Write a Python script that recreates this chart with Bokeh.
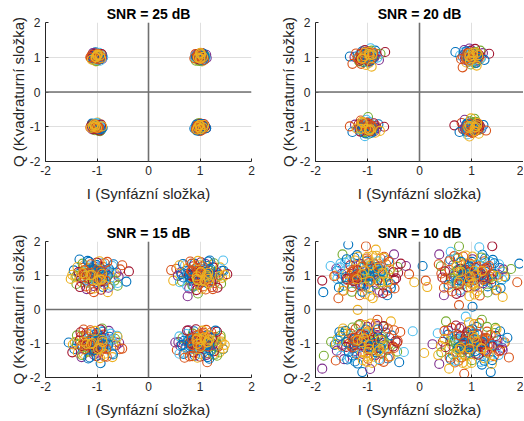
from bokeh.plotting import figure
from bokeh.layouts import row, column
from bokeh.models import Span, ColumnDataSource
from bokeh.embed import file_html
from bokeh.resources import INLINE

# ---------------- data ----------------
titles = ["SNR = 25 dB", "SNR = 20 dB", "SNR = 15 dB", "SNR = 10 dB"]
x_label = "I (Synfázní složka)"
y_label = "Q (Kvadraturní složka)"
ticks = [-2, -1, 0, 1, 2]
tick_text = {-2: "-2", -1: "-1", 0: "0", 1: "1", 2: "2"}

# outer / visible points
snr25_i = [1.03, 0.95, 1.08, 0.92, 1.01, 1.11, 0.97, 1.05, 0.89, 1.02, 0.98, 1.07, 0.94, 1.12, 0.99, 0.91, 1.04, 1.09, 0.96, 1.00,
           -0.97, -1.05, -0.92, -1.09, -1.01, -0.88, -1.03, -0.95, -1.12, -0.99, -1.06, -0.93, -1.02, -0.90, -1.08, -0.96, -1.04, -0.98, -1.10, -0.94,
           -1.02, -0.96, -1.08, -0.91, -1.04, -0.98, -1.11, -0.93, -1.00, -1.06, -0.89, -1.03, -0.95, -1.09, -0.97, -1.01, -0.92, -1.05, -0.99, -1.12,
           1.02, 0.96, 1.07, 0.91, 1.04, 0.98, 1.10, 0.93, 1.01, 1.06, 0.89, 1.03, 0.95, 1.12, 0.97, 1.00, 1.08, 0.94, 1.05, 0.99]
snr25_q = [1.02, 0.98, 1.05, 1.06, 0.93, 0.99, 1.10, 0.91, 0.97, 1.08, 1.01, 0.95, 0.92, 1.07, 0.89, 1.03, 1.12, 1.01, 1.04, 0.96,
           1.03, 0.97, 1.08, 1.04, 0.92, 1.00, 1.11, 0.94, 0.99, 1.06, 1.09, 1.01, 0.88, 0.95, 0.93, 1.13, 1.02, 0.98, 1.07, 1.05,
           -0.97, -1.04, -1.02, -0.99, -1.10, -0.91, -0.96, -1.07, -1.01, -0.93, -1.03, -1.06, -0.95, -1.08, -1.12, -0.89, -0.94, -1.00, -1.05, -1.03,
           -1.03, -0.97, -1.06, -1.01, -0.92, -1.09, -0.98, -0.94, -1.12, -1.02, -1.05, -0.96, -1.07, -1.04, -0.90, -1.00, -0.93, -1.11, -1.08, -0.95]
# dense core points
snr25_core_i = [1.06, 0.93, 1.02, 0.98, 1.10, 0.90, 1.04, 0.96, 1.08, 1.00, 0.94, 1.05, 0.99, 1.13, 0.92, 1.03, 0.97, 1.07, 0.95, 1.01, 1.09, 0.91, 1.04, 0.98, 1.02,
                -1.06, -0.93, -1.02, -0.98, -1.10, -0.90, -1.04, -0.96, -1.08, -1.00, -0.94, -1.05, -0.99, -1.13, -0.92, -1.03, -0.97, -1.07, -0.95, -1.01, -1.09, -0.91, -1.04, -0.98, -1.02,
                -1.02, -0.98, -1.04, -0.91, -1.09, -1.01, -0.95, -1.07, -0.97, -1.03, -0.92, -1.13, -0.99, -1.05, -0.94, -1.00, -1.08, -0.96, -1.04, -0.90, -1.10, -0.98, -1.02, -0.93, -1.06,
                1.01, 0.97, 1.05, 0.92, 1.08, 1.03, 0.95, 1.11, 0.99, 1.04, 0.90, 1.06, 0.98, 1.02, 0.94, 1.09, 1.00, 0.96, 1.07, 0.93, 1.03, 0.99, 1.12, 0.95, 1.01]
snr25_core_q = [0.97, 1.03, 1.09, 0.94, 1.04, 1.01, 0.99, 1.07, 0.92, 1.11, 0.96, 1.06, 1.02, 0.98, 0.90, 0.95, 1.05, 1.10, 1.00, 1.13, 0.94, 1.09, 0.88, 1.03, 0.99,
                1.01, 0.96, 1.05, 1.10, 0.93, 1.07, 0.98, 1.03, 1.12, 0.95, 0.90, 1.04, 1.08, 1.00, 0.97, 1.14, 0.92, 1.02, 1.06, 0.89, 0.99, 1.09, 1.04, 0.94, 1.00,
                -1.03, -0.97, -1.08, -1.01, -0.94, -1.06, -1.11, -0.92, -1.00, -0.96, -1.09, -1.02, -0.88, -1.05, -1.13, -0.98, -0.93, -1.07, -1.04, -0.99, -0.91, -1.10, -0.95, -1.01, -1.06,
                -0.98, -1.04, -1.01, -1.07, -0.95, -1.10, -0.92, -1.03, -1.06, -0.99, -1.02, -0.94, -1.12, -0.97, -1.08, -1.00, -0.90, -1.05, -0.96, -1.09, -1.01, -0.93, -1.04, -0.98, -1.07]
snr25_core2_i = [1.00, 1.04, 0.96, 1.07, 0.93, 1.02, 0.98, 1.05, 0.95, 1.01, 1.08, 0.94, 1.03, 0.97, 1.06, 0.99, 1.02, 0.92, 1.04, 0.96, 1.00, 1.07, 0.95, 1.03, 0.98, 1.05, 0.93, 1.01, 0.97, 1.06,
                 -1.01, -0.97, -1.05, -0.94, -1.03, -0.99, -1.07, -0.96, -1.02, -1.00, -0.93, -1.06, -0.98, -1.04, -0.95, -1.01, -1.08, -0.97, -1.03, -0.99, -1.05, -0.92, -1.02, -0.96, -1.04, -1.00, -0.98, -1.06, -0.94, -1.03,
                 -0.99, -1.03, -0.96, -1.05, -1.00, -0.94, -1.07, -1.02, -0.97, -1.04, -1.01, -0.95, -1.06, -0.98, -1.03, -0.93, -1.00, -1.05, -0.97, -1.08, -0.99, -1.02, -0.95, -1.04, -0.98, -1.01, -1.06, -0.96, -1.03, -1.00,
                 1.00, 0.97, 1.04, 1.01, 0.99, 1.06, 0.94, 1.03, 1.07, 0.96, 1.02, 1.00, 0.93, 1.05, 0.98, 1.08, 1.01, 1.03, 0.95, 0.99, 1.05, 1.04, 0.97, 1.00, 1.07, 0.94, 1.02, 1.06, 0.98, 1.01]
snr25_core2_q = [1.00, 0.97, 1.04, 1.01, 0.99, 1.06, 0.94, 1.03, 1.07, 0.96, 1.02, 1.00, 0.93, 1.05, 0.98, 1.08, 1.01, 1.03, 0.95, 0.99, 1.05, 1.04, 0.97, 1.00, 1.07, 0.94, 1.02, 1.06, 0.98, 1.01,
                 0.99, 1.03, 0.96, 1.05, 1.00, 0.94, 1.07, 1.02, 0.97, 1.04, 1.01, 0.95, 1.06, 0.98, 1.03, 0.93, 1.00, 1.05, 0.97, 1.08, 0.99, 1.02, 0.95, 1.04, 0.98, 1.01, 1.06, 0.96, 1.03, 1.00,
                 -1.01, -0.97, -1.05, -0.94, -1.03, -0.99, -1.07, -0.96, -1.02, -1.00, -0.93, -1.06, -0.98, -1.04, -0.95, -1.01, -1.08, -0.97, -1.03, -0.99, -1.05, -0.92, -1.02, -0.96, -1.04, -1.00, -0.98, -1.06, -0.94, -1.03,
                 -1.00, -1.04, -0.96, -1.07, -0.93, -1.02, -0.98, -1.05, -0.95, -1.01, -1.08, -0.94, -1.03, -0.97, -1.06, -0.99, -1.02, -0.92, -1.04, -0.96, -1.00, -1.07, -0.95, -1.03, -0.98, -1.05, -0.93, -1.01, -0.97, -1.06]

snr20_i = [1.05, 0.93, 1.12, 0.86, 1.01, 1.18, 0.97, 1.09, 0.80, 1.03, 0.95, 1.15, 0.90, 1.22, 0.99, 0.84, 1.07, 1.25, 0.92, 1.00,
           1.11, 0.88, 1.04, 0.96, 1.17, 0.78, 1.34, 0.69, 0.83, 1.10,
           -0.98, -1.07, -0.89, -1.14, -1.02, -0.81, -1.05, -0.93, -1.19, -0.96, -1.10, -0.87, -1.03, -0.78, -1.16, -0.94, -1.08, -1.00, -1.22, -0.91,
           -0.85, -1.12, -0.97, -1.25, -0.75, -1.04, -0.66, -1.34, -1.29, -0.92,
           -1.03, -0.95, -1.11, -0.87, -1.06, -0.97, -1.17, -0.90, -1.00, -1.09, -0.82, -1.04, -0.93, -1.15, -0.98, -1.02, -0.88, -1.07, -0.96, -1.21,
           -0.79, -1.13, -0.85, -1.24, -0.99, -1.05, -0.68, -1.29, -1.34, -0.76,
           1.03, 0.95, 1.10, 0.88, 1.05, 0.98, 1.16, 0.91, 1.01, 1.08, 0.84, 1.04, 0.94, 1.19, 0.97, 1.00, 1.12, 0.90, 1.07, 0.99,
           1.23, 0.81, 1.14, 0.87, 1.06, 0.92, 0.67, 0.77, 1.28, 0.96]
snr20_q = [1.02, 0.96, 1.09, 1.08, 0.88, 0.97, 1.18, 0.84, 0.95, 1.13, 1.04, 1.04, 0.85, 1.12, 0.79, 1.14, 1.24, 0.92, 1.11, 0.97,
           0.91, 1.01, 0.95, 1.25, 1.19, 1.05, 1.10, 1.15, 0.71, 0.76,
           1.04, 0.95, 1.10, 1.09, 0.86, 0.99, 1.21, 0.91, 0.97, 1.15, 1.17, 1.03, 0.78, 0.92, 0.88, 1.26, 1.03, 0.99, 1.11, 1.07,
           1.19, 0.81, 0.84, 1.01, 1.10, 1.12, 1.15, 1.02, 0.81, 0.73,
           -0.96, -1.06, -1.03, -0.98, -1.16, -0.86, -0.93, -1.10, -1.01, -0.89, -1.04, -1.09, -0.94, -1.12, -1.21, -0.80, -0.90, -1.00, -1.13, -1.05,
           -0.93, -0.82, -1.17, -0.94, -0.72, -1.27, -1.00, -1.15, -0.99, -1.12,
           -1.02, -0.95, -1.08, -1.03, -0.88, -1.12, -0.97, -0.91, -1.17, -1.01, -1.07, -0.93, -1.05, -1.06, -0.84, -0.99, -0.90, -1.14, -1.13, -0.76,
           -0.95, -0.89, -1.20, -0.80, -0.77, -1.22, -0.96, -1.15, -1.11, -1.28]
snr20_core_i = [1.02, 0.94, 1.11, 0.87, 1.06, 0.98, 1.15, 0.90, 1.03, 0.96, 1.08, 0.83, 1.13, 1.00, 0.92, 1.19, 0.97, 1.05, 0.89, 1.10, 0.95, 1.01, 1.16, 0.86, 1.07, 0.99, 1.12, 0.93, 1.04, 0.97,
                -1.02, -0.94, -1.11, -0.87, -1.06, -0.98, -1.15, -0.90, -1.03, -0.96, -1.08, -0.83, -1.13, -1.00, -0.92, -1.19, -0.97, -1.05, -0.89, -1.10, -0.95, -1.01, -1.16, -0.86, -1.07, -0.99, -1.12, -0.93, -1.04, -0.97,
                -1.01, -0.95, -1.09, -0.88, -1.05, -0.97, -1.14, -0.91, -1.02, -0.94, -1.07, -0.84, -1.12, -0.99, -0.93, -1.18, -0.98, -1.04, -0.90, -1.11, -0.96, -1.00, -1.15, -0.87, -1.08, -1.03, -1.13, -0.92, -1.06, -0.97,
                1.01, 0.95, 1.09, 0.88, 1.05, 0.97, 1.14, 0.91, 1.02, 0.94, 1.07, 0.84, 1.12, 0.99, 0.93, 1.18, 0.98, 1.04, 0.90, 1.11, 0.96, 1.00, 1.15, 0.87, 1.08, 1.03, 1.13, 0.92, 1.06, 0.97]
snr20_core_q = [0.98, 1.07, 1.01, 0.93, 1.15, 0.89, 1.06, 1.17, 0.95, 1.02, 0.84, 1.03, 0.99, 1.20, 1.10, 1.00, 0.91, 1.08, 0.97, 1.13, 0.87, 1.05, 0.94, 1.21, 0.83, 1.12, 1.04, 0.98, 1.01, 0.90,
                1.01, 0.94, 1.08, 0.99, 1.12, 1.03, 0.90, 0.97, 1.16, 1.05, 0.86, 1.10, 1.00, 0.93, 1.19, 1.04, 0.88, 1.07, 1.13, 0.96, 1.02, 1.17, 0.91, 1.06, 0.98, 0.85, 1.11, 1.03, 0.95, 1.09,
                -0.99, -1.05, -0.92, -1.10, -1.02, -0.95, -1.14, -1.00, -0.88, -1.07, -1.16, -0.97, -1.03, -0.90, -1.11, -1.06, -0.94, -1.19, -1.01, -0.86, -1.08, -0.96, -1.04, -1.13, -0.91, -1.02, -0.98, -1.17, -0.93, -1.09,
                -1.03, -0.96, -1.09, -1.00, -0.91, -1.13, -1.05, -0.94, -1.18, -1.02, -0.87, -1.07, -0.99, -1.11, -0.93, -1.04, -1.15, -0.97, -1.08, -0.89, -1.01, -1.12, -0.95, -1.06, -0.86, -1.10, -1.00, -0.92, -1.14, -0.98]
snr20_core2_i = [1.00, 1.06, 0.94, 1.11, 0.90, 1.03, 0.97, 1.08, 0.92, 1.13, 1.01, 0.95, 1.05, 0.88, 1.09, 0.99, 1.04, 0.93, 1.14, 0.96, 1.02, 1.07, 0.91, 1.10, 0.98, 1.05, 0.94, 1.12, 0.97, 1.03,
                 -1.01, -0.95, -1.08, -0.99, -1.04, -0.91, -1.12, -1.02, -0.97, -1.06, -0.89, -1.10, -0.96, -1.03, -1.14, -0.93, -1.07, -1.00, -0.98, -1.11, -0.94, -1.05, -1.02, -0.90, -1.09, -0.97, -1.13, -1.01, -0.92, -1.06,
                 -1.00, -1.06, -0.94, -1.11, -0.90, -1.03, -0.97, -1.08, -0.92, -1.13, -1.01, -0.95, -1.05, -0.88, -1.09, -0.99, -1.04, -0.93, -1.14, -0.96, -1.02, -1.07, -0.91, -1.10, -0.98, -1.05, -0.94, -1.12, -0.97, -1.03,
                 1.01, 0.95, 1.08, 0.99, 1.04, 0.91, 1.12, 1.02, 0.97, 1.06, 0.89, 1.10, 0.96, 1.03, 1.14, 0.93, 1.07, 1.00, 0.98, 1.11, 0.94, 1.05, 1.02, 0.90, 1.09, 0.97, 1.13, 1.01, 0.92, 1.06]
snr20_core2_q = [1.01, 0.95, 1.08, 0.99, 1.04, 0.91, 1.12, 1.02, 0.97, 1.06, 0.89, 1.10, 0.96, 1.03, 1.14, 0.93, 1.07, 1.00, 0.98, 1.11, 0.94, 1.05, 1.02, 0.90, 1.09, 0.97, 1.13, 1.01, 0.92, 1.06,
                 1.00, 1.06, 0.94, 1.11, 0.90, 1.03, 0.97, 1.08, 0.92, 1.13, 1.01, 0.95, 1.05, 0.88, 1.09, 0.99, 1.04, 0.93, 1.14, 0.96, 1.02, 1.07, 0.91, 1.10, 0.98, 1.05, 0.94, 1.12, 0.97, 1.03,
                 -1.01, -0.95, -1.08, -0.99, -1.04, -0.91, -1.12, -1.02, -0.97, -1.06, -0.89, -1.10, -0.96, -1.03, -1.14, -0.93, -1.07, -1.00, -0.98, -1.11, -0.94, -1.05, -1.02, -0.90, -1.09, -0.97, -1.13, -1.01, -0.92, -1.06,
                 -1.00, -1.06, -0.94, -1.11, -0.90, -1.03, -0.97, -1.08, -0.92, -1.13, -1.01, -0.95, -1.05, -0.88, -1.09, -0.99, -1.04, -0.93, -1.14, -0.96, -1.02, -1.07, -0.91, -1.10, -0.98, -1.05, -0.94, -1.12, -0.97, -1.03]

snr15_i = [-1.02, -0.91, -1.13, -0.85, -1.18, -0.97, -1.08, -0.79, -1.25, -0.94, -1.05, -0.88, -1.21, -0.99, -1.15, -0.73, -1.31, -1.01, -0.83, -1.10,
           -0.96, -1.27, -0.69, -1.07, -1.19, -0.90, -1.36, -0.77, -1.12, -0.86, -1.03, -1.23, -0.65, -0.98, -1.40, -1.16,
           -0.38, -0.43, -0.51, -1.51, -1.34, -1.06, -0.79, -1.20, -0.60,
           1.01, 0.90, 1.12, 0.84, 1.17, 0.96, 1.07, 0.78, 1.24, 0.93, 1.04, 0.87, 1.20, 0.98, 1.14, 0.72, 1.30, 1.00, 0.82, 1.09,
           0.95, 1.26, 0.68, 1.06, 1.18, 0.89, 1.34, 0.76, 1.11, 0.85, 1.02, 1.22, 0.64, 0.97, 1.38, 1.15,
           0.44, 0.48, 0.76, 0.96, 1.45, 1.53, 1.43, 1.25, 0.60,
           -1.01, -0.92, -1.12, -0.84, -1.18, -0.97, -1.06, -0.78, -1.24, -0.93, -1.04, -0.87, -1.20, -0.99, -1.14, -0.72, -1.30, -1.00, -0.82, -1.09,
           -0.95, -1.26, -0.68, -1.06, -1.18, -0.89, -1.34, -0.76, -1.11, -0.85, -1.02, -1.22, -0.64, -0.97, -1.39, -1.15,
           -1.48, -0.93, -0.51, -0.60, -1.55, -1.26, -0.70, -1.30, -0.90,
           1.02, 0.91, 1.13, 0.85, 1.18, 0.97, 1.07, 0.79, 1.25, 0.94, 1.05, 0.88, 1.21, 0.99, 1.15, 0.73, 1.31, 1.01, 0.83, 1.10,
           0.96, 1.27, 0.69, 1.07, 1.19, 0.90, 1.35, 0.77, 1.12, 0.86, 1.03, 1.23, 0.65, 0.98, 1.40, 1.16,
           1.14, 1.40, 0.52, 1.33, 0.60, 0.75, 1.30, 0.70, 1.45]
snr15_q = [1.05, 0.96, 1.12, 1.08, 0.92, 1.21, 0.83, 0.99, 1.04, 0.88, 1.16, 1.25, 1.18, 0.75, 0.98, 1.12, 0.94, 1.31, 0.85, 1.02,
           1.09, 1.23, 0.93, 0.69, 0.79, 1.36, 1.10, 1.20, 1.33, 0.72, 0.93, 0.86, 1.05, 1.00, 0.99, 1.27,
           1.12, 0.82, 1.30, 0.90, 1.47, 0.51, 0.51, 0.60, 0.70,
           1.03, 0.95, 1.10, 1.12, 0.90, 1.22, 0.82, 1.01, 1.05, 0.87, 1.17, 1.27, 1.20, 0.74, 0.97, 1.14, 0.93, 1.30, 0.84, 1.01,
           1.08, 1.24, 0.94, 0.68, 0.77, 1.35, 1.08, 1.21, 1.34, 0.71, 0.92, 0.85, 1.04, 0.99, 0.98, 1.28,
           1.16, 0.85, 0.39, 0.47, 1.44, 1.04, 1.14, 0.60, 1.30,
           -0.98, -1.06, -0.91, -0.95, -1.12, -0.80, -1.20, -1.03, -0.97, -1.14, -0.84, -0.74, -0.79, -1.27, -1.04, -0.88, -1.07, -0.69, -1.17, -0.99,
           -0.92, -0.77, -1.06, -1.33, -1.24, -0.64, -0.91, -0.80, -0.66, -1.30, -1.09, -1.16, -0.96, -1.01, -1.03, -0.72,
           -1.26, -1.58, -1.15, -0.80, -0.97, -0.59, -1.40, -1.40, -0.56,
           -1.02, -0.94, -1.09, -1.05, -0.88, -1.20, -0.81, -0.97, -1.03, -0.86, -1.16, -1.26, -1.21, -0.73, -0.96, -1.12, -0.92, -1.31, -0.84, -1.00,
           -1.08, -1.23, -0.92, -0.68, -0.76, -1.36, -1.09, -1.21, -1.34, -0.71, -0.91, -0.84, -1.04, -0.99, -0.97, -1.28,
           -1.55, -0.83, -0.97, -1.36, -1.30, -0.62, -0.62, -1.42, -1.15]
snr15_core_i = [-1.00, -0.92, -1.09, -0.84, -1.14, -0.96, -1.05, -0.88, -1.20, -0.99, -1.03, -0.80, -1.11, -0.94, -1.17, -0.86, -1.07, -0.97, -1.24, -0.90, -1.01, -1.13, -0.82, -1.06, -0.95, -1.18, -0.89, -1.10, -0.98, -1.28, -0.93, -1.04, -0.76, -1.15, -1.02,
                0.99, 0.91, 1.08, 0.83, 1.13, 0.95, 1.04, 0.87, 1.19, 0.98, 1.02, 0.79, 1.10, 0.93, 1.16, 0.85, 1.06, 0.96, 1.23, 0.89, 1.00, 1.12, 0.81, 1.05, 0.94, 1.17, 0.88, 1.09, 0.97, 1.27, 0.92, 1.03, 0.75, 1.14, 1.01,
                -0.99, -0.91, -1.08, -0.83, -1.13, -0.95, -1.04, -0.87, -1.19, -0.98, -1.02, -0.79, -1.10, -0.93, -1.16, -0.85, -1.06, -0.96, -1.23, -0.89, -1.00, -1.12, -0.81, -1.05, -0.94, -1.17, -0.88, -1.09, -0.97, -1.27, -0.92, -1.03, -0.75, -1.14, -1.01,
                1.00, 0.92, 1.09, 0.84, 1.14, 0.96, 1.05, 0.88, 1.20, 0.99, 1.03, 0.80, 1.11, 0.94, 1.17, 0.86, 1.07, 0.97, 1.24, 0.90, 1.01, 1.13, 0.82, 1.06, 0.95, 1.18, 0.89, 1.10, 0.98, 1.28, 0.93, 1.04, 0.76, 1.15, 1.02]
snr15_core_q = [1.00, 1.08, 0.94, 1.15, 1.03, 0.90, 1.19, 0.97, 1.06, 0.85, 1.12, 1.02, 0.96, 1.24, 1.09, 0.88, 1.01, 1.16, 0.95, 1.05, 0.81, 1.11, 0.93, 1.28, 0.99, 1.04, 0.87, 1.13, 0.92, 1.07, 1.20, 0.98, 1.06, 0.91, 1.10,
                0.99, 1.07, 0.93, 1.14, 1.02, 0.89, 1.18, 0.96, 1.05, 0.84, 1.11, 1.01, 0.95, 1.23, 1.08, 0.87, 1.00, 1.15, 0.94, 1.04, 0.80, 1.10, 0.92, 1.27, 0.98, 1.03, 0.86, 1.12, 0.91, 1.06, 1.19, 0.97, 1.05, 0.90, 1.09,
                -1.01, -0.93, -1.07, -0.86, -0.98, -1.11, -0.82, -1.04, -0.95, -1.16, -0.89, -0.99, -1.06, -0.77, -0.92, -1.13, -1.00, -0.85, -1.05, -0.96, -1.20, -0.90, -1.08, -0.74, -1.02, -0.97, -1.14, -0.88, -1.09, -0.94, -0.81, -1.03, -0.95, -1.10, -0.91,
                -1.00, -0.92, -1.06, -0.85, -0.97, -1.10, -0.81, -1.03, -0.94, -1.15, -0.88, -0.98, -1.05, -0.76, -0.91, -1.12, -0.99, -0.84, -1.04, -0.95, -1.19, -0.89, -1.07, -0.73, -1.01, -0.96, -1.13, -0.87, -1.08, -0.93, -0.80, -1.02, -0.94, -1.09, -0.90]
snr15_core2_i = [-1.04, -0.90, -1.16, -0.97, -1.09, -0.83, -1.21, -1.00, -0.93, -1.13, -0.87, -1.06, -1.19, -0.95, -1.02, -0.80, -1.11, -0.98, -1.25, -0.91, -1.07, -0.85, -1.15, -1.01, -0.94, -1.18, -0.89, -1.05, -0.99, -1.22, -0.92, -1.10, -0.84, -1.03, -0.96,
                 1.04, 0.90, 1.16, 0.97, 1.09, 0.83, 1.21, 1.00, 0.93, 1.13, 0.87, 1.06, 1.19, 0.95, 1.02, 0.80, 1.11, 0.98, 1.25, 0.91, 1.07, 0.85, 1.15, 1.01, 0.94, 1.18, 0.89, 1.05, 0.99, 1.22, 0.92, 1.10, 0.84, 1.03, 0.96,
                 -1.03, -0.89, -1.15, -0.96, -1.08, -0.82, -1.20, -0.99, -0.92, -1.12, -0.86, -1.05, -1.18, -0.94, -1.01, -0.79, -1.10, -0.97, -1.24, -0.90, -1.06, -0.84, -1.14, -1.00, -0.93, -1.17, -0.88, -1.04, -0.98, -1.21, -0.91, -1.09, -0.83, -1.02, -0.95,
                 1.03, 0.89, 1.15, 0.96, 1.08, 0.82, 1.20, 0.99, 0.92, 1.12, 0.86, 1.05, 1.18, 0.94, 1.01, 0.79, 1.10, 0.97, 1.24, 0.90, 1.06, 0.84, 1.14, 1.00, 0.93, 1.17, 0.88, 1.04, 0.98, 1.21, 0.91, 1.09, 0.83, 1.02, 0.95]
snr15_core2_q = [0.95, 1.09, 1.02, 0.86, 1.17, 0.98, 1.05, 0.91, 1.13, 1.01, 0.83, 1.20, 0.94, 1.07, 0.89, 1.11, 1.03, 0.97, 1.15, 0.88, 1.06, 0.99, 1.23, 0.92, 1.10, 0.85, 1.04, 1.18, 0.96, 1.00, 0.81, 1.12, 1.08, 0.93, 1.14,
                 1.05, 0.91, 0.98, 1.14, 0.83, 1.02, 0.95, 1.09, 0.87, 0.99, 1.17, 0.80, 1.06, 0.93, 1.11, 0.89, 0.97, 1.03, 0.85, 1.12, 0.94, 1.01, 0.77, 1.08, 0.90, 1.15, 0.96, 0.82, 1.04, 1.00, 1.19, 0.88, 0.92, 1.07, 0.86,
                 -0.96, -1.10, -1.03, -0.87, -1.18, -0.99, -1.06, -0.92, -1.14, -1.02, -0.84, -1.21, -0.95, -1.08, -0.90, -1.12, -1.04, -0.98, -1.16, -0.89, -1.07, -1.00, -1.24, -0.93, -1.11, -0.86, -1.05, -1.19, -0.97, -1.01, -0.82, -1.13, -1.09, -0.94, -1.15,
                 -1.04, -0.90, -0.97, -1.13, -0.82, -1.01, -0.94, -1.08, -0.86, -0.98, -1.16, -0.79, -1.05, -0.92, -1.10, -0.88, -0.96, -1.02, -0.84, -1.11, -0.93, -1.00, -0.76, -1.07, -0.89, -1.14, -0.95, -0.81, -1.03, -0.99, -1.18, -0.87, -0.91, -1.06, -0.85]
snr15_mid_i = [-1.35, -1.30, -1.38, -0.62, -0.66, -0.70, -1.00, -1.15, -0.85, -1.05, -0.88, -1.22, -1.42, -0.58, -1.28, -0.74, -1.33, -0.68, -1.12, -0.95, -1.45, -0.55, -1.25, -0.78, -1.40, -0.60, -0.92, -1.18, -0.80, -1.48,
               1.36, 1.29, 1.39, 0.63, 0.65, 0.71, 1.02, 1.16, 0.84, 1.04, 0.87, 1.23, 1.43, 0.57, 1.27, 0.75, 1.34, 0.67, 1.11, 0.96, 1.46, 0.54, 1.24, 0.79, 1.41, 0.61, 0.93, 1.19, 0.81, 1.49,
               -1.34, -1.31, -1.37, -0.63, -0.65, -0.71, -1.01, -1.14, -0.86, -1.04, -0.89, -1.21, -1.43, -0.57, -1.29, -0.73, -1.32, -0.69, -1.13, -0.94, -1.44, -0.56, -1.26, -0.77, -1.39, -0.61, -0.93, -1.17, -0.81, -1.47,
               1.35, 1.30, 1.38, 0.62, 0.66, 0.70, 1.00, 1.15, 0.85, 1.05, 0.88, 1.22, 1.42, 0.58, 1.28, 0.74, 1.33, 0.68, 1.12, 0.95, 1.45, 0.55, 1.25, 0.78, 1.40, 0.60, 0.92, 1.18, 0.80, 1.48]
snr15_mid_q = [1.05, 0.80, 1.25, 1.08, 0.85, 1.28, 1.38, 1.40, 1.36, 0.62, 0.66, 0.68, 0.95, 0.97, 1.35, 0.70, 0.66, 1.33, 0.60, 1.42, 1.15, 1.18, 1.30, 0.64, 0.75, 0.78, 0.58, 1.43, 1.40, 1.02,
               1.02, 0.78, 1.24, 1.10, 0.83, 1.30, 1.39, 1.41, 1.35, 0.61, 0.67, 0.66, 0.93, 0.99, 1.36, 0.69, 0.64, 1.34, 0.59, 1.43, 1.14, 1.20, 1.31, 0.62, 0.76, 0.80, 0.57, 1.44, 1.41, 1.01,
               -1.03, -0.79, -1.27, -1.06, -0.86, -1.29, -1.37, -1.41, -1.38, -0.63, -0.65, -0.69, -0.96, -0.98, -1.34, -0.71, -0.67, -1.32, -0.61, -1.43, -1.16, -1.17, -1.31, -0.63, -0.76, -0.77, -0.59, -1.44, -1.39, -1.03,
               -1.04, -0.81, -1.26, -1.07, -0.84, -1.27, -1.39, -1.40, -1.37, -0.62, -0.64, -0.67, -0.94, -0.96, -1.33, -0.72, -0.65, -1.31, -0.60, -1.42, -1.17, -1.19, -1.32, -0.61, -0.77, -0.79, -0.58, -1.45, -1.38, -1.04]

snr10_i = [-1.37, -1.03, -0.84, -0.49, -1.48, -1.71, -1.87, -1.85, -1.56, -0.90, -0.62, -0.20, -0.10, -0.26,
           -1.02, -0.85, -1.19, -0.74, -1.28, -0.93, -1.12, -0.66, -1.39, -0.89, -1.07, -0.79, -1.33, -0.98, -1.22, -0.57,
           -1.50, -1.01, -0.71, -1.15, -0.94, -1.43, -0.48, -1.10, -1.30, -0.83, -1.59, -0.64, -1.18, -0.77, -1.05, -1.37,
           -0.41, -0.96, -1.64, -1.24, -0.55, -1.46, -0.69, -1.13, -0.87, -1.53, -0.36, -1.00, -1.26, -0.61,
           0.06, 0.12, 0.15, 0.38, 0.76, 1.15, 1.40, 1.02, 0.76, 1.47, 1.92, 1.88, 1.60, 0.47, 1.76, 0.60,
           1.03, 0.87, 1.20, 0.75, 1.29, 0.94, 1.13, 0.67, 1.40, 0.90, 1.08, 0.80, 1.34, 0.99, 1.23, 0.58,
           1.51, 1.02, 0.72, 1.16, 0.95, 1.44, 0.49, 1.11, 1.31, 0.84, 1.60, 0.65, 1.19, 0.78, 1.06, 1.38,
           0.42, 0.97, 1.65, 1.25, 0.56, 1.47, 0.70, 1.14, 0.88, 1.54, 0.37, 1.01, 1.27, 0.62,
           -1.19, -1.87, -1.84, -0.13, -0.43, -0.39, -1.61, -1.48, -1.10, -0.81, -0.55, -0.95, -1.70, -0.30,
           -1.01, -0.86, -1.18, -0.75, -1.27, -0.94, -1.11, -0.67, -1.38, -0.90, -1.06, -0.80, -1.32, -0.99, -1.21, -0.58,
           -1.49, -1.00, -0.72, -1.14, -0.95, -1.42, -0.49, -1.09, -1.29, -0.84, -1.58, -0.65, -1.17, -0.78, -1.04, -1.36,
           -0.42, -0.97, -1.63, -1.23, -0.56, -1.45, -0.70, -1.12, -0.88, -1.52, -0.37, -0.99, -1.25, -0.62,
           0.09, 0.25, 0.51, 0.89, 1.47, 1.69, 1.72, 1.39, 1.37, 0.86, 0.57, 0.38, 1.20, 0.35, 1.55,
           1.02, 0.86, 1.19, 0.76, 1.28, 0.93, 1.12, 0.66, 1.39, 0.89, 1.07, 0.81, 1.33, 0.98, 1.22, 0.57,
           1.50, 1.01, 0.71, 1.15, 0.94, 1.43, 0.48, 1.10, 1.30, 0.83, 1.59, 0.64, 1.18, 0.77, 1.05, 1.37,
           0.41, 0.96, 1.64, 1.24, 0.55, 1.46, 0.69, 1.13, 0.87, 1.53, 0.36, 1.00, 1.26, 0.61]
snr10_q = [1.91, 1.86, 1.76, 1.62, 1.62, 1.28, 0.85, 0.51, 0.33, 0.33, 0.42, 1.04, 0.80, 1.28,
           1.04, 0.93, 1.15, 1.12, 0.87, 1.31, 0.74, 0.97, 1.06, 0.80, 1.24, 1.42, 1.30, 0.62, 0.98, 1.18,
           0.92, 1.50, 0.71, 1.02, 1.12, 1.38, 0.88, 0.52, 0.66, 1.58, 1.14, 1.33, 1.55, 0.55, 0.89, 0.76,
           1.08, 0.99, 0.98, 1.44, 0.63, 0.55, 1.52, 1.34, 1.19, 1.24, 1.35, 0.76, 1.13, 0.82,
           1.28, 0.85, 0.66, 1.62, 1.86, 1.83, 1.86, 0.08, 0.13, 0.99, 1.35, 0.80, 0.37, 0.42, 1.19, 1.70,
           1.02, 0.95, 1.13, 1.10, 0.88, 1.29, 0.76, 0.99, 1.04, 0.82, 1.22, 1.40, 1.28, 0.64, 0.96, 1.16,
           0.94, 1.48, 0.73, 1.00, 1.10, 1.36, 0.90, 0.54, 0.68, 1.56, 1.12, 1.31, 1.53, 0.57, 0.87, 0.78,
           1.06, 0.97, 0.96, 1.42, 0.65, 0.57, 1.50, 1.32, 1.17, 1.22, 1.33, 0.74, 1.11, 0.84,
           -0.01, -1.74, -1.36, -0.64, -0.97, -1.55, -1.50, -0.64, -1.84, -0.30, -0.35, -1.75, -0.95, -1.25,
           -0.97, -1.07, -0.86, -0.90, -1.14, -0.70, -1.27, -1.04, -0.95, -1.21, -0.77, -0.59, -0.71, -1.39, -1.03, -0.83,
           -1.09, -0.51, -1.30, -0.99, -0.89, -0.63, -1.13, -1.49, -1.35, -0.43, -0.87, -0.68, -0.46, -1.46, -1.12, -1.25,
           -0.93, -1.03, -1.04, -0.57, -1.38, -1.46, -0.50, -0.68, -0.82, -0.77, -0.66, -1.25, -0.88, -1.18,
           -1.28, -1.02, -0.35, -0.21, -0.78, -0.83, -1.41, -1.60, -1.84, -1.89, -1.74, -1.60, -0.30, -0.70, -1.20,
           -1.03, -0.93, -1.14, -1.10, -0.86, -1.30, -0.73, -0.96, -1.05, -0.79, -1.23, -1.41, -1.29, -0.61, -0.97, -1.17,
           -0.91, -1.49, -0.70, -1.01, -1.11, -1.37, -0.87, -0.51, -0.65, -1.57, -1.13, -1.32, -1.54, -0.56, -0.88, -0.75,
           -1.07, -0.98, -0.97, -1.43, -0.62, -0.54, -1.51, -1.33, -1.18, -1.23, -1.34, -0.75, -1.12, -0.83]
snr10_core_i = [-1.00, -0.88, -1.12, -0.79, -1.21, -0.95, -1.06, -0.70, -1.31, -0.92, -1.16, -0.83, -1.03, -1.25, -0.74, -0.98, -1.10, -0.86, -1.35, -0.63, -1.08, -0.93, -1.19, -0.81, -1.02, -1.28, -0.76, -1.14, -0.90, -0.99, -1.23, -0.68, -1.05, -1.40, -0.85, -1.11, -0.96, -0.72, -1.17, -1.04,
                0.99, 0.87, 1.11, 0.78, 1.20, 0.94, 1.05, 0.69, 1.30, 0.91, 1.15, 0.82, 1.02, 1.24, 0.73, 0.97, 1.09, 0.85, 1.34, 0.62, 1.07, 0.92, 1.18, 0.80, 1.01, 1.27, 0.75, 1.13, 0.89, 0.98, 1.22, 0.67, 1.04, 1.39, 0.84, 1.10, 0.95, 0.71, 1.16, 1.03,
                -1.01, -0.89, -1.13, -0.80, -1.22, -0.96, -1.07, -0.71, -1.32, -0.93, -1.17, -0.84, -1.04, -1.26, -0.75, -0.99, -1.11, -0.87, -1.36, -0.64, -1.09, -0.94, -1.20, -0.82, -1.03, -1.29, -0.77, -1.15, -0.91, -1.00, -1.24, -0.69, -1.06, -1.41, -0.86, -1.12, -0.97, -0.73, -1.18, -1.05,
                1.00, 0.88, 1.12, 0.79, 1.21, 0.95, 1.06, 0.70, 1.31, 0.92, 1.16, 0.83, 1.03, 1.25, 0.74, 0.98, 1.10, 0.86, 1.35, 0.63, 1.08, 0.93, 1.19, 0.81, 1.02, 1.28, 0.76, 1.14, 0.90, 0.99, 1.23, 0.68, 1.05, 1.40, 0.85, 1.11, 0.96, 0.72, 1.17, 1.04]
snr10_core_q = [0.98, 1.10, 0.91, 1.21, 1.03, 0.82, 1.15, 1.01, 0.93, 1.29, 1.07, 0.74, 1.18, 0.96, 0.87, 1.36, 1.04, 1.12, 0.99, 0.94, 0.69, 1.24, 1.08, 0.86, 1.41, 1.16, 0.80, 1.05, 0.97, 1.19, 0.78, 1.09, 1.30, 0.90, 1.02, 1.26, 0.84, 1.13, 0.95, 1.11,
                0.97, 1.09, 0.90, 1.20, 1.02, 0.81, 1.14, 1.00, 0.92, 1.28, 1.06, 0.73, 1.17, 0.95, 0.86, 1.35, 1.03, 1.11, 0.98, 0.93, 0.68, 1.23, 1.07, 0.85, 1.40, 1.15, 0.79, 1.04, 0.96, 1.18, 0.77, 1.08, 1.29, 0.89, 1.01, 1.25, 0.83, 1.12, 0.94, 1.10,
                -1.02, -0.90, -1.11, -0.79, -0.97, -1.18, -0.85, -0.99, -1.07, -0.71, -0.93, -1.26, -0.82, -1.04, -1.13, -0.64, -0.96, -0.88, -1.01, -1.06, -1.31, -0.76, -0.92, -1.14, -0.59, -0.84, -1.20, -0.95, -1.03, -0.81, -1.22, -0.91, -0.70, -1.10, -0.98, -0.74, -1.16, -0.87, -1.05, -0.89,
                -1.01, -0.89, -1.10, -0.78, -0.96, -1.17, -0.84, -0.98, -1.06, -0.70, -0.92, -1.25, -0.81, -1.03, -1.12, -0.63, -0.95, -0.87, -1.00, -1.05, -1.30, -0.75, -0.91, -1.13, -0.58, -0.83, -1.19, -0.94, -1.02, -0.80, -1.21, -0.90, -0.69, -1.09, -0.97, -0.73, -1.15, -0.86, -1.04, -0.88]
snr10_core2_i = [-0.95, -1.15, -0.82, -1.27, -1.03, -0.76, -1.20, -0.91, -1.09, -1.33, -0.86, -1.01, -0.69, -1.14, -0.97, -1.24, -0.80, -1.06, -1.38, -0.89, -1.12, -0.73, -0.99, -1.18, -0.84, -1.30, -1.04, -0.94, -1.22, -0.78, -1.08, -0.60, -1.16, -0.92, -1.42, -1.00, -0.71, -1.26, -0.87, -1.10,
                 0.95, 1.15, 0.82, 1.27, 1.03, 0.76, 1.20, 0.91, 1.09, 1.33, 0.86, 1.01, 0.69, 1.14, 0.97, 1.24, 0.80, 1.06, 1.38, 0.89, 1.12, 0.73, 0.99, 1.18, 0.84, 1.30, 1.04, 0.94, 1.22, 0.78, 1.08, 0.60, 1.16, 0.92, 1.42, 1.00, 0.71, 1.26, 0.87, 1.10,
                 -0.94, -1.14, -0.81, -1.26, -1.02, -0.75, -1.19, -0.90, -1.08, -1.32, -0.85, -1.00, -0.68, -1.13, -0.96, -1.23, -0.79, -1.05, -1.37, -0.88, -1.11, -0.72, -0.98, -1.17, -0.83, -1.29, -1.03, -0.93, -1.21, -0.77, -1.07, -0.59, -1.15, -0.91, -1.41, -0.99, -0.70, -1.25, -0.86, -1.09,
                 0.94, 1.14, 0.81, 1.26, 1.02, 0.75, 1.19, 0.90, 1.08, 1.32, 0.85, 1.00, 0.68, 1.13, 0.96, 1.23, 0.79, 1.05, 1.37, 0.88, 1.11, 0.72, 0.98, 1.17, 0.83, 1.29, 1.03, 0.93, 1.21, 0.77, 1.07, 0.59, 1.15, 0.91, 1.41, 0.99, 0.70, 1.25, 0.86, 1.09]
snr10_core2_q = [1.06, 0.94, 1.19, 0.83, 1.01, 1.27, 0.89, 1.12, 0.77, 1.03, 1.33, 0.96, 1.15, 0.71, 1.08, 0.92, 1.22, 0.99, 0.86, 1.38, 1.04, 0.80, 1.17, 0.93, 1.25, 1.10, 0.67, 0.97, 1.30, 1.13, 0.88, 1.02, 0.74, 1.20, 0.95, 1.44, 1.07, 0.84, 1.00, 1.24,
                 0.93, 1.08, 0.85, 1.21, 1.00, 0.74, 1.13, 0.96, 1.30, 0.88, 1.04, 1.17, 0.79, 0.98, 1.26, 0.90, 1.11, 0.70, 1.02, 1.35, 0.94, 1.16, 0.82, 1.06, 0.99, 1.23, 0.76, 1.09, 0.87, 1.40, 1.01, 0.92, 1.19, 0.66, 1.05, 0.97, 1.28, 0.84, 1.14, 0.91,
                 -1.07, -0.95, -1.20, -0.84, -1.02, -1.28, -0.90, -1.13, -0.78, -1.04, -1.34, -0.97, -1.16, -0.72, -1.09, -0.93, -1.23, -1.00, -0.87, -1.39, -1.05, -0.81, -1.18, -0.94, -1.26, -1.11, -0.68, -0.98, -1.31, -1.14, -0.89, -1.03, -0.75, -1.21, -0.96, -1.45, -1.08, -0.85, -1.01, -1.25,
                 -0.94, -1.09, -0.86, -1.22, -1.01, -0.75, -1.14, -0.97, -1.31, -0.89, -1.05, -1.18, -0.80, -0.99, -1.27, -0.91, -1.12, -0.71, -1.03, -1.36, -0.95, -1.17, -0.83, -1.07, -1.00, -1.24, -0.77, -1.10, -0.88, -1.41, -1.02, -0.93, -1.20, -0.67, -1.06, -0.98, -1.29, -0.85, -1.15, -0.92]
snr10_mid_i = [-1.50, -1.45, -1.52, -0.50, -0.55, -0.58, -1.00, -1.25, -0.75, -1.05, -0.80, -1.30, -1.58, -0.45, -1.40, -0.62, -1.48, -0.60, -1.15, -0.90, -1.60, -0.42, -1.35, -0.70, -1.55, -0.48, -0.95, -1.20, -0.68, -1.62,
               1.51, 1.44, 1.53, 0.49, 0.56, 0.57, 1.02, 1.26, 0.74, 1.06, 0.79, 1.31, 1.59, 0.44, 1.41, 0.63, 1.49, 0.59, 1.16, 0.89, 1.61, 0.41, 1.36, 0.71, 1.56, 0.47, 0.96, 1.21, 0.67, 1.63,
               -1.49, -1.46, -1.51, -0.51, -0.54, -0.59, -1.01, -1.24, -0.76, -1.04, -0.81, -1.29, -1.57, -0.46, -1.39, -0.61, -1.47, -0.61, -1.14, -0.91, -1.59, -0.43, -1.34, -0.69, -1.54, -0.49, -0.94, -1.19, -0.69, -1.61,
               1.50, 1.45, 1.52, 0.50, 0.55, 0.58, 1.00, 1.25, 0.75, 1.05, 0.80, 1.30, 1.58, 0.45, 1.40, 0.62, 1.48, 0.60, 1.15, 0.90, 1.60, 0.42, 1.35, 0.70, 1.55, 0.48, 0.95, 1.20, 0.68, 1.62]
snr10_mid_q = [1.05, 0.70, 1.35, 1.10, 0.75, 1.40, 1.55, 1.52, 1.50, 0.45, 0.50, 0.52, 0.90, 0.92, 1.48, 0.55, 0.55, 1.45, 0.42, 1.58, 1.20, 1.25, 1.42, 0.48, 0.65, 0.62, 0.40, 1.60, 1.55, 1.00,
               1.03, 0.72, 1.33, 1.12, 0.73, 1.42, 1.56, 1.50, 1.52, 0.44, 0.51, 0.50, 0.88, 0.94, 1.46, 0.53, 0.57, 1.47, 0.41, 1.59, 1.18, 1.27, 1.40, 0.46, 0.63, 0.64, 0.39, 1.61, 1.57, 0.98,
               -1.04, -0.71, -1.36, -1.09, -0.76, -1.39, -1.54, -1.53, -1.49, -0.46, -0.49, -0.53, -0.91, -0.93, -1.47, -0.56, -0.56, -1.44, -0.43, -1.57, -1.21, -1.24, -1.43, -0.49, -0.66, -0.61, -0.41, -1.59, -1.54, -1.01,
               -1.06, -0.69, -1.34, -1.11, -0.74, -1.41, -1.57, -1.51, -1.51, -0.43, -0.52, -0.51, -0.89, -0.95, -1.49, -0.54, -0.58, -1.46, -0.40, -1.60, -1.19, -1.26, -1.41, -0.47, -0.64, -0.63, -0.38, -1.62, -1.56, -0.99]

panel_i = [snr25_i + snr25_core_i + snr25_core2_i,
           snr20_i + snr20_core_i + snr20_core2_i,
           snr15_i + snr15_core_i + snr15_core2_i + snr15_mid_i,
           snr10_i + snr10_core_i + snr10_core2_i + snr10_mid_i]
panel_q = [snr25_q + snr25_core_q + snr25_core2_q,
           snr20_q + snr20_core_q + snr20_core2_q,
           snr15_q + snr15_core_q + snr15_core2_q + snr15_mid_q,
           snr10_q + snr10_core_q + snr10_core2_q + snr10_mid_q]

# ---------------- style ----------------
palette = ["#0072BD", "#D95319", "#EDB120", "#7E2F8E", "#77AC30", "#4DBEEE", "#A2142F"]
N_SERIES = 10          # plotted series; colours cycle through the default order
FONT = "Liberation Sans"
AX = "#262626"


def make_panel(k, width, height, left, right, top, bottom):
    xs, ys = panel_i[k], panel_q[k]
    series = [j % N_SERIES for j in range(len(xs))]
    order = sorted(range(len(xs)), key=lambda j: (series[j], j))
    src = ColumnDataSource(dict(x=[xs[j] for j in order],
                                y=[ys[j] for j in order],
                                c=[palette[series[j] % 7] for j in order]))
    p = figure(width=width, height=height, x_range=(-2, 2), y_range=(-2, 2),
               output_backend="svg", toolbar_location=None, title=titles[k],
               min_border_left=left, min_border_right=right,
               min_border_top=top, min_border_bottom=bottom)
    p.title.text_font = FONT
    p.title.text_font_size = "14px"
    p.title.text_font_style = "bold"
    p.title.text_color = "#000000"
    p.title.align = "center"
    p.title.standoff = 1
    p.outline_line_color = None
    p.background_fill_color = "white"
    p.border_fill_color = "white"
    for ax in (p.xaxis[0], p.yaxis[0]):
        ax.ticker = ticks
        ax.major_label_overrides = tick_text
        ax.axis_line_color = AX
        ax.axis_line_width = 1
        ax.major_tick_line_color = AX
        ax.major_tick_in = 3
        ax.major_tick_out = 0
        ax.minor_tick_line_color = None
        ax.major_label_text_font = FONT
        ax.major_label_text_font_size = "12px"
        ax.major_label_text_color = AX
        ax.axis_label_text_font = FONT
        ax.axis_label_text_font_size = "15px"
        ax.axis_label_text_font_style = "normal"
        ax.axis_label_text_color = AX
    p.xaxis.axis_label = x_label
    p.yaxis.axis_label = y_label
    p.xaxis.major_label_standoff = 4
    p.xaxis.axis_label_standoff = 7
    p.yaxis.major_label_standoff = 5
    p.yaxis.axis_label_standoff = 0
    p.grid.grid_line_color = "#dfdfdf"
    p.grid.grid_line_width = 1
    p.xgrid.ticker = ticks
    p.ygrid.ticker = ticks
    p.add_layout(Span(location=0, dimension="width", line_color="#707070", line_width=1.6))
    p.add_layout(Span(location=0, dimension="height", line_color="#707070", line_width=1.6))
    p.scatter("x", "y", source=src, marker="circle", size=9, fill_color=None,
              line_color="c", line_width=1.1)
    return p


p1 = make_panel(0, 262, 222, 45, 11, 22, 61)
p2 = make_panel(1, 261, 222, 53, 0, 22, 61)
p3 = make_panel(2, 262, 198, 45, 11, 18, 41)
p4 = make_panel(3, 261, 198, 53, 0, 18, 41)

layout = column(row(p1, p2, spacing=0), row(p3, p4, spacing=0), spacing=0)

with open("out.html", "w") as f:
    f.write(file_html(layout, INLINE))
